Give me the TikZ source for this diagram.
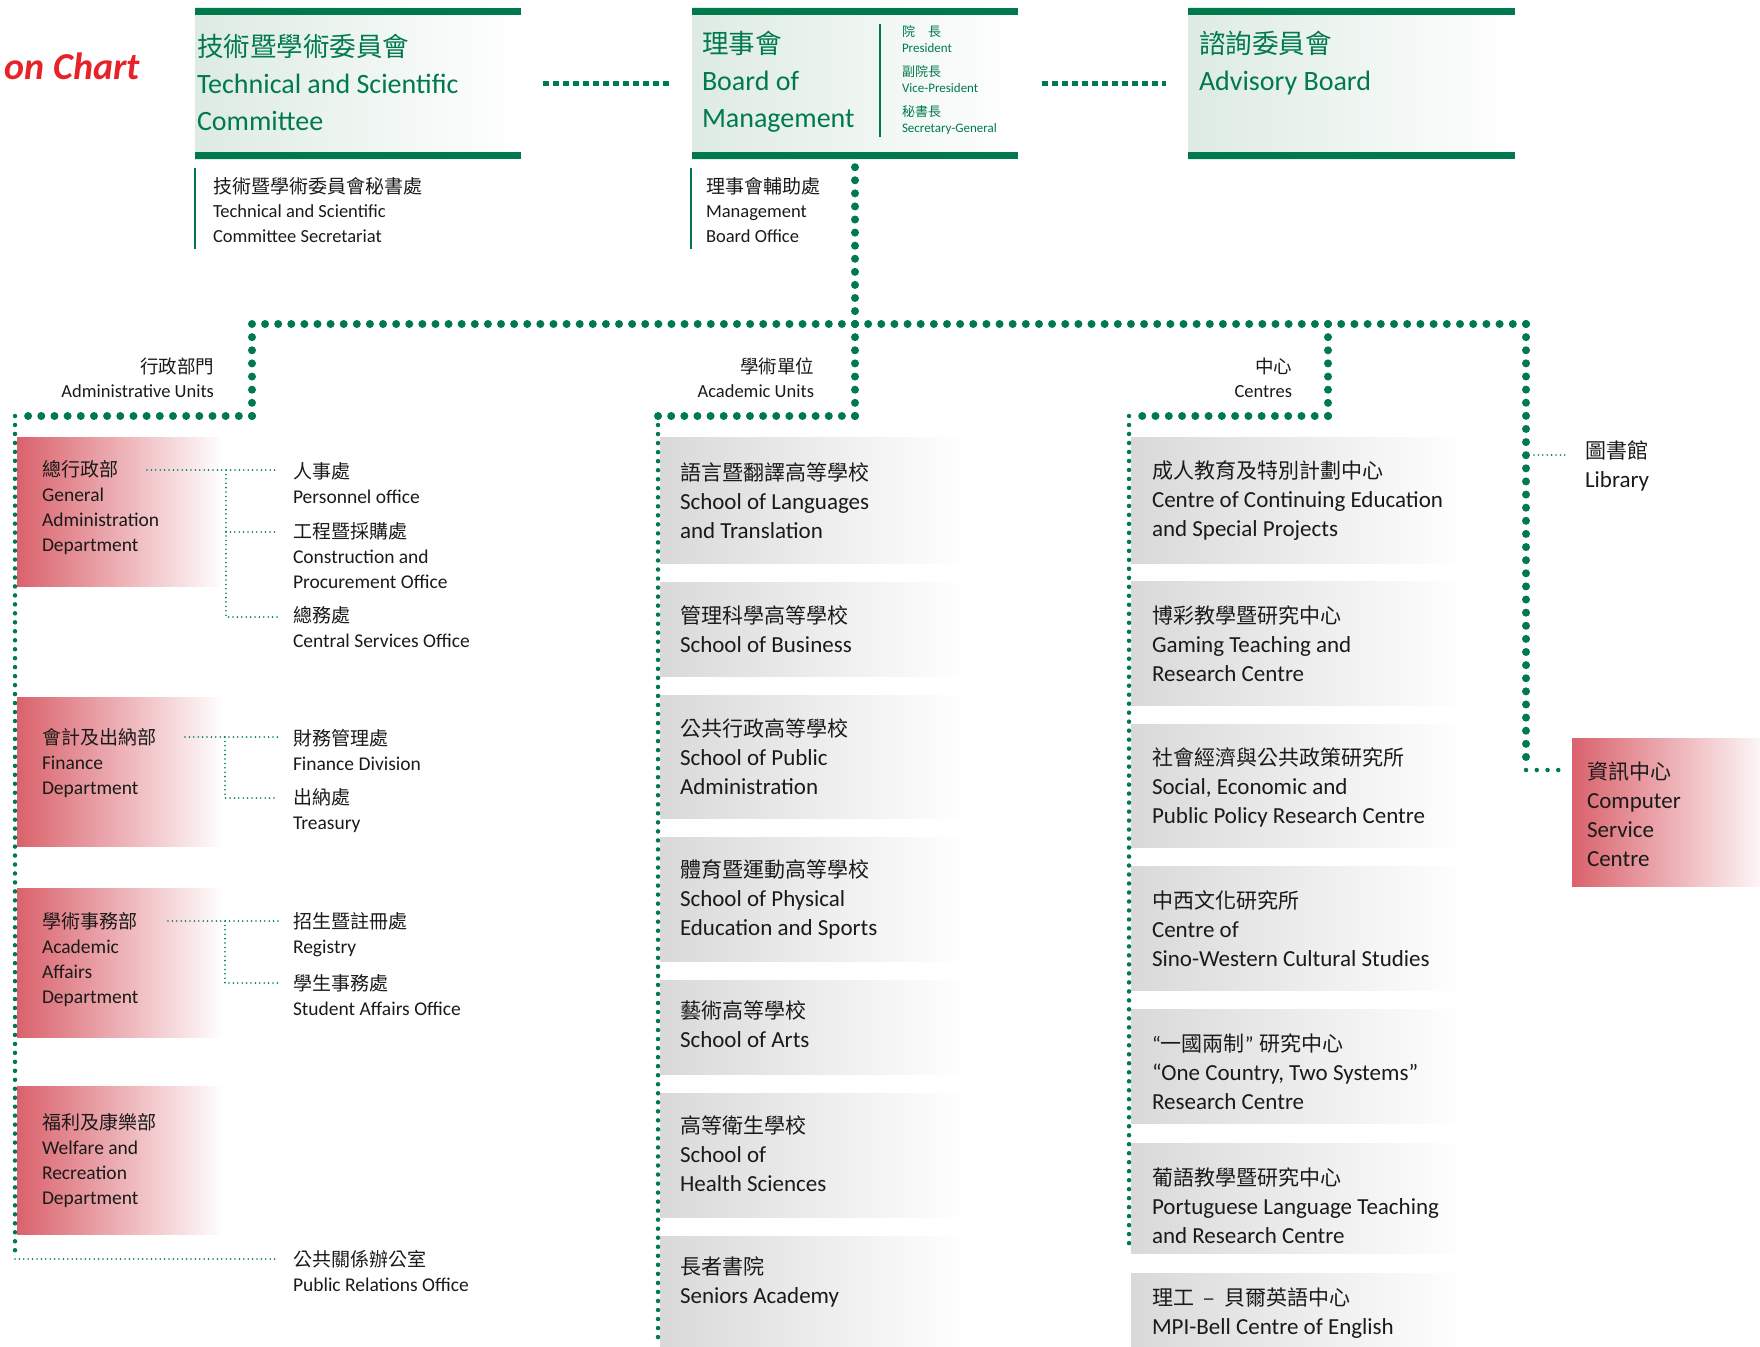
\documentclass[tikz,border=0pt]{standalone}
\usepackage{fontspec}
\setmainfont{Carlito}
\newfontfamily\cjk{Noto Sans CJK TC}
\newcommand\zh[2]{{\cjk\fontsize{#1}{\baselineskip}\selectfont #2}}
\definecolor{ugreen}{RGB}{0,122,76}
\definecolor{topL}{RGB}{221,235,227}
\definecolor{boxgray}{RGB}{217,217,217}
\definecolor{boxred}{RGB}{218,98,108}
\definecolor{titlered}{RGB}{230,35,40}
\definecolor{ink}{RGB}{26,26,26}
\tikzset{
  lbl/.style={inner sep=0pt, outer sep=0pt, align=left, anchor=west},
  topbox/.style={inner sep=0pt, minimum width=326pt, minimum height=151pt, left color=topL, right color=white, draw=none},
  graybox/.style={inner sep=0pt, anchor=north west, left color=boxgray, right color=white, draw=none},
  redbox/.style={inner sep=0pt, anchor=north west, left color=boxred, right color=white, draw=none},
  bigdots/.style={draw=ugreen, line width=8pt, line cap=round, dash pattern=on 0pt off #1},
  middots/.style={draw=ugreen, line width=4.5pt, line cap=round, dash pattern=on 0pt off #1},
  finedots/.style={draw=ugreen, line width=1.8pt, line cap=round, dash pattern=on 0pt off 4.4pt},
  sqdots/.style={draw=ugreen, line width=5.5pt, dash pattern=on 5.5pt off 4.5pt},
  bar/.style={fill=ugreen},
  rule/.style={draw=ugreen, line width=2pt},
  fTitle/.style={font=\fontsize{28}{37}\selectfont, text=ugreen},
  fSmall/.style={font=\fontsize{13}{16}\selectfont, text=ugreen},
  fSub/.style={font=\fontsize{18.5}{24.5}\selectfont, text=ink},
  fLbl/.style={font=\fontsize{18.5}{24}\selectfont, text=ink},
  fAdm/.style={font=\fontsize{19.5}{25}\selectfont, text=ink},
  fBox/.style={font=\fontsize{23}{29}\selectfont, text=ink},
}
\begin{document}
\begin{tikzpicture}[x=1pt,y=-1pt]
\useasboundingbox (0,0) rectangle (1760,1346);

% ---------- title fragment
\node[anchor=base east, inner sep=0pt, font=\fontsize{38}{40}\selectfont\bfseries\itshape, text=titlered] (title) at (140,79) {on Chart};

% ---------- top boxes
\node[topbox] (tsc) at (358,83.5) {};
\node[topbox] (bom) at (855,83.5) {};
\node[topbox] (ab) at (1351.5,83.5) {};
\foreach \b in {tsc,bom,ab}{
  \fill[bar] (\b.north west) rectangle ([yshift=-7pt]\b.north east);
  \fill[bar] (\b.south west) rectangle ([yshift=7pt]\b.south east);
}
\node[lbl, fTitle] (tscT) at (197,82) {\zh{26.5}{技術暨學術委員會}\\Technical and Scientific\\Committee};
\node[lbl, fTitle] (bomT) at (702,82) {\zh{26.5}{理事會}\\Board of\\Management};
\draw[ugreen, line width=2.5pt] (880,24) -- (880,137);
\node[lbl, fSmall] (bomR) at (902,80) {\zh{13}{院　長}\\President\\[8pt]\zh{13}{副院長}\\Vice-President\\[8pt]\zh{13}{秘書長}\\Secretary-General};
\node[lbl, fTitle] (abT) at (1199,63.5) {\zh{26.5}{諮詢委員會}\\Advisory Board};

\draw[sqdots] ([xshift=22pt]tsc.east) -- ([xshift=-22pt]bom.west);
\draw[sqdots] ([xshift=24pt]bom.east) -- ([xshift=-22pt]ab.west);

% ---------- offices under top boxes
\node[lbl, fSub] (tscSec) at (213,210) {\zh{19}{技術暨學術委員會秘書處}\\Technical and Scientific\\Committee Secretariat};
\draw[rule] (195,168) -- (195,249);
\node[lbl, fSub] (bomOff) at (706,210) {\zh{19}{理事會輔助處}\\Management\\Board Office};
\draw[rule] (691,168) -- (691,249);

% ---------- group labels
\node[lbl, fLbl, anchor=east, align=right] (admL) at (214,378) {\zh{18.5}{行政部門}\\Administrative Units};
\node[lbl, fLbl, anchor=east, align=right] (acaL) at (814,378) {\zh{18.5}{學術單位}\\Academic Units};
\node[lbl, fLbl, anchor=east, align=right] (cenL) at (1292,378) {\zh{18.5}{中心}\\Centres};

% ---------- administrative units
\node[redbox, minimum width=206pt, minimum height=149pt] (gad) at (17,437) {};
\node[redbox, minimum width=206pt, minimum height=149pt] (fin) at (17,697) {};
\node[redbox, minimum width=206pt, minimum height=149pt] (aa) at (17,888) {};
\node[redbox, minimum width=206pt, minimum height=148pt] (wel) at (17,1086) {};
\node[lbl, fAdm] (gadT) at (42,508) {\zh{19}{總行政部}\\General\\Administration\\Department};
\node[lbl, fAdm] (finT) at (42,763) {\zh{19}{會計及出納部}\\Finance\\Department};
\node[lbl, fAdm] (aaT) at (42,960) {\zh{19}{學術事務部}\\Academic\\Affairs\\Department};
\node[lbl, fAdm] (welT) at (42,1160) {\zh{19}{福利及康樂部}\\Welfare and\\Recreation\\Department};

\node[lbl, fAdm] (pers) at (293,483.5) {\zh{19}{人事處}\\Personnel office};
\node[lbl, fAdm] (cons) at (293,555.5) {\zh{19}{工程暨採購處}\\Construction and\\Procurement Office};
\node[lbl, fAdm] (cso) at (293,627.5) {\zh{19}{總務處}\\Central Services Office};
\node[lbl, fAdm] (fdiv) at (293,750.5) {\zh{19}{財務管理處}\\Finance Division};
\node[lbl, fAdm] (treas) at (293,810.5) {\zh{19}{出納處}\\Treasury};
\node[lbl, fAdm] (reg) at (293,935) {\zh{19}{招生暨註冊處}\\Registry};
\node[lbl, fAdm] (sao) at (293,995) {\zh{19}{學生事務處}\\Student Affairs Office};
\node[lbl, fAdm] (pro) at (293,1270.5) {\zh{19}{公共關係辦公室}\\Public Relations Office};

% ---------- academic units
\node[graybox, minimum width=307pt, minimum height=126pt] (aca1) at (660,437) {};
\node[graybox, minimum width=307pt, minimum height=94pt] (aca2) at (660,582) {};
\node[graybox, minimum width=307pt, minimum height=123pt] (aca3) at (660,695) {};
\node[graybox, minimum width=307pt, minimum height=124pt] (aca4) at (660,837) {};
\node[graybox, minimum width=307pt, minimum height=94pt] (aca5) at (660,980) {};
\node[graybox, minimum width=307pt, minimum height=124pt] (aca6) at (660,1093) {};
\node[graybox, minimum width=307pt, minimum height=115pt] (aca7) at (660,1236) {};
\node[lbl, fBox] (aca1T) at (680,500.5) {\zh{21}{語言暨翻譯高等學校}\\School of Languages\\and Translation};
\node[lbl, fBox] (aca2T) at (680,629.5) {\zh{21}{管理科學高等學校}\\School of Business};
\node[lbl, fBox] (aca3T) at (680,757) {\zh{21}{公共行政高等學校}\\School of Public\\Administration};
\node[lbl, fBox] (aca4T) at (680,899.5) {\zh{21}{體育暨運動高等學校}\\School of Physical\\Education and Sports};
\node[lbl, fBox] (aca5T) at (680,1024.5) {\zh{21}{藝術高等學校}\\School of Arts};
\node[lbl, fBox] (aca6T) at (680,1154) {\zh{21}{高等衛生學校}\\School of\\Health Sciences};
\node[lbl, fBox] (aca7T) at (680,1281.5) {\zh{21}{長者書院}\\Seniors Academy};

% ---------- centres
\node[graybox, minimum width=336pt, minimum height=126pt] (cen1) at (1131,437) {};
\node[graybox, minimum width=336pt, minimum height=124pt] (cen2) at (1131,581) {};
\node[graybox, minimum width=336pt, minimum height=123pt] (cen3) at (1131,724) {};
\node[graybox, minimum width=336pt, minimum height=124pt] (cen4) at (1131,866) {};
\node[graybox, minimum width=336pt, minimum height=114pt] (cen5) at (1131,1009) {};
\node[graybox, minimum width=336pt, minimum height=110pt] (cen6) at (1131,1143) {};
\node[graybox, minimum width=336pt, minimum height=80pt] (cen7) at (1131,1273) {};
\node[lbl, fBox] (cen1T) at (1152,500.5) {\zh{21}{成人教育及特別計劃中心}\\Centre of Continuing Education\\and Special Projects};
\node[lbl, fBox] (cen2T) at (1152,644) {\zh{21}{博彩教學暨研究中心}\\Gaming Teaching and\\Research Centre};
\node[lbl, fBox] (cen3T) at (1152,787) {\zh{21}{社會經濟與公共政策研究所}\\Social, Economic and\\Public Policy Research Centre};
\node[lbl, fBox] (cen4T) at (1152,928.5) {\zh{21}{中西文化研究所}\\Centre of\\Sino-Western Cultural Studies};
\node[lbl, fBox] (cen5T) at (1152,1072) {\zh{21}{{\normalfont “}一國兩制{\normalfont ”}\hspace{0.3em}研究中心}\\“One Country, Two Systems”\\Research Centre};
\node[lbl, fBox] (cen6T) at (1152,1205.5) {\zh{21}{葡語教學暨研究中心}\\Portuguese Language Teaching\\and Research Centre};
\node[lbl, fBox] (cen7T) at (1152,1313.5) {\zh{21}{理工\hspace{0.45em}–\hspace{0.45em}貝爾英語中心}\\MPI-Bell Centre of English};

% ---------- library and computer centre
\node[lbl, fBox] (lib) at (1585,465.5) {\zh{21}{圖書館}\\Library};
\node[redbox, minimum width=200pt, minimum height=148pt] (csc) at (1572,738) {};
\node[lbl, fBox] (cscT) at (1587,814.5) {\zh{21}{資訊中心}\\Computer\\Service\\Centre};

% ---------- junctions
\coordinate (trunkTop) at ([yshift=-8pt]bom.south);
\coordinate (hub) at (855,324);
\coordinate (admTop) at (252,324);
\coordinate (admMid) at (252,416);
\coordinate (admLeft) at (15,416);
\coordinate (admEnd) at (15,1259);
\coordinate (prE) at (278,1259);
\coordinate (acaMid) at (855,416);
\coordinate (acaLeft) at (658,416);
\coordinate (acaEnd) at (658,1346);
\coordinate (cenTop) at (1328,324);
\coordinate (cenMid) at (1328,416);
\coordinate (cenLeft) at (1129,416);
\coordinate (cenEnd) at (1129,1252);
\coordinate (rTop) at (1526,324);
\coordinate (rBot) at (1526,770);
\coordinate (rEnd) at (1569,770);
\coordinate (libJ) at (1534,455);
\coordinate (libE) at (1569,455);

\coordinate (gadS) at (147,470);  \coordinate (gadJ) at (226,470);  \coordinate (gadE1) at (278,470);
\coordinate (gadJ2) at (226,532); \coordinate (gadE2) at (278,532);
\coordinate (gadJ3) at (226,617); \coordinate (gadE3) at (278,617);
\coordinate (finS) at (185,737);  \coordinate (finJ) at (225,737);  \coordinate (finE1) at (278,737);
\coordinate (finJ2) at (225,798); \coordinate (finE2) at (278,798);
\coordinate (aaS) at (168,921);   \coordinate (aaJ) at (225,921);   \coordinate (aaE1) at (278,921);
\coordinate (aaJ2) at (225,983);  \coordinate (aaE2) at (278,983);

% ---------- main dotted connectors
\draw[bigdots=13.08pt] (trunkTop) -- (hub);
\draw[bigdots=13.11pt] (hub) -- (admTop);
\draw[bigdots=13.14pt] (admTop) -- (admMid);
\draw[bigdots=13.17pt] (admMid) -- (admLeft);
\draw[middots=8.97pt] (admLeft) -- (admEnd);
\draw[bigdots=13.14pt] (hub) -- (acaMid);
\draw[bigdots=13.13pt] (acaMid) -- (acaLeft);
\draw[middots=9.03pt] (acaLeft) -- (acaEnd);
\draw[bigdots=13.14pt] (hub) -- (cenTop);
\draw[bigdots=13.14pt] (cenTop) -- (cenMid);
\draw[bigdots=13.27pt] (cenMid) -- (cenLeft);
\draw[middots=8.99pt] (cenLeft) -- (cenEnd);
\draw[bigdots=13.2pt] (cenTop) -- (rTop);
\draw[bigdots=13.12pt] (rTop) -- (rBot);
\draw[middots=10.75pt] (rBot) -- (rEnd);
\draw[finedots] (libJ) -- (libE);

% ---------- administrative sub-branches
\draw[finedots] (gadS) -- (gadE1);
\draw[finedots] (gadJ) -- (gadJ3) -- (gadE3);
\draw[finedots] (gadJ2) -- (gadE2);
\draw[finedots] (finS) -- (finE1);
\draw[finedots] (finJ) -- (finJ2) -- (finE2);
\draw[finedots] (aaS) -- (aaE1);
\draw[finedots] (aaJ) -- (aaJ2) -- (aaE2);
\draw[finedots] (admEnd) -- (prE);
\end{tikzpicture}
\end{document}
